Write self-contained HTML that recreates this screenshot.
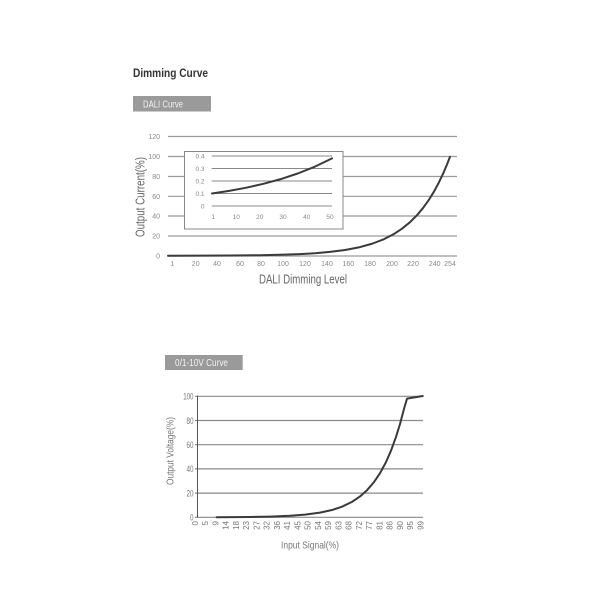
<!DOCTYPE html>
<html><head><meta charset="utf-8">
<style>
html,body{margin:0;padding:0;background:#fff;}
svg{display:block;}
text{font-family:"Liberation Sans",sans-serif;}
</style></head>
<body>
<svg width="600" height="600" viewBox="0 0 600 600" xmlns="http://www.w3.org/2000/svg">
<rect width="600" height="600" fill="#fff"/>

<!-- Title -->
<text x="133" y="77" font-size="11.5" font-weight="bold" fill="#333" textLength="75" lengthAdjust="spacingAndGlyphs">Dimming Curve</text>

<!-- DALI label box -->
<rect x="133" y="96" width="78" height="15.5" fill="#9a9a9a"/>
<text x="143" y="107.5" font-size="10" fill="#f2f2f2" textLength="40" lengthAdjust="spacingAndGlyphs">DALI Curve</text>

<!-- Main chart gridlines -->
<g stroke="#9a9a9a" stroke-width="1.2">
<line x1="168" y1="136.5" x2="457" y2="136.5"/>
<line x1="168" y1="156.5" x2="457" y2="156.5"/>
<line x1="168" y1="176.5" x2="457" y2="176.5"/>
<line x1="168" y1="196.3" x2="457" y2="196.3"/>
<line x1="168" y1="216" x2="457" y2="216"/>
<line x1="168" y1="236" x2="457" y2="236"/>
<line x1="168" y1="256" x2="457" y2="256"/>
</g>

<!-- Main y labels -->
<g font-size="7" fill="#888" text-anchor="end">
<text x="160" y="139">120</text>
<text x="160" y="159">100</text>
<text x="160" y="179">80</text>
<text x="160" y="198.8">60</text>
<text x="160" y="218.5">40</text>
<text x="160" y="238.5">20</text>
<text x="160" y="258.5">0</text>
</g>

<!-- Main x labels -->
<g font-size="7" fill="#888" text-anchor="middle">
<text x="172.3" y="266">1</text>
<text x="195.7" y="266">20</text>
<text x="217" y="266">40</text>
<text x="240" y="266">60</text>
<text x="261" y="266">80</text>
<text x="283" y="266">100</text>
<text x="305" y="266">120</text>
<text x="327" y="266">140</text>
<text x="348.3" y="266">160</text>
<text x="370" y="266">180</text>
<text x="392" y="266">200</text>
<text x="413" y="266">220</text>
<text x="434.7" y="266">240</text>
<text x="450" y="266">254</text>
</g>

<text x="259" y="283.5" font-size="13" fill="#666" textLength="88" lengthAdjust="spacingAndGlyphs">DALI Dimming Level</text>
<text transform="translate(144.5,237) rotate(-90)" font-size="13" fill="#666" textLength="80" lengthAdjust="spacingAndGlyphs">Output Current(%)</text>

<!-- Inset -->
<rect x="184.5" y="151.5" width="158.5" height="77.5" fill="#fff" stroke="#888" stroke-width="1"/>
<g stroke="#888" stroke-width="1">
<line x1="211.7" y1="156" x2="332" y2="156"/>
<line x1="211.7" y1="168.5" x2="332" y2="168.5"/>
<line x1="211.7" y1="181" x2="332" y2="181"/>
<line x1="211.7" y1="193.5" x2="332" y2="193.5"/>
<line x1="211.7" y1="206" x2="332" y2="206"/>
</g>
<g font-size="6.5" fill="#888" text-anchor="end">
<text x="204.5" y="158.3">0.4</text>
<text x="204.5" y="170.8">0.3</text>
<text x="204.5" y="183.3">0.2</text>
<text x="204.5" y="195.8">0.1</text>
<text x="204.5" y="208.3">0</text>
</g>
<g font-size="6.5" fill="#888" text-anchor="middle">
<text x="213.3" y="219">1</text>
<text x="236.3" y="219">10</text>
<text x="259.7" y="219">20</text>
<text x="283" y="219">30</text>
<text x="306.7" y="219">40</text>
<text x="330" y="219">50</text>
</g>
<polyline fill="none" stroke="#3a3a3a" stroke-width="2" stroke-linejoin="round" stroke-linecap="round"
 points="212,193.5 229.1,190.86 246.3,187.68 263.4,183.83 280.6,179.15 297.7,173.5 314.9,166.65 332,158.36"/>

<!-- Main curve -->
<polyline fill="none" stroke="#3a3a3a" stroke-width="2" stroke-linejoin="round" stroke-linecap="round"
 points="168,255.75 200,255.68 230,255.54 260,255.22 280,254.8 300,254.08 315,253.22 330,251.92 345,249.99 360,247.09 372,243.75 384,239.14 394,233.97 402,228.71 410,222.18 417,215.2 423,208.08 429,199.65 434,191.55 439,182.24 443,173.85 447,164.5 450,156.8"/>

<!-- Second chart -->
<rect x="165" y="355" width="77.7" height="15" fill="#9a9a9a"/>
<text x="175" y="366" font-size="10" fill="#f2f2f2" textLength="53" lengthAdjust="spacingAndGlyphs">0/1-10V Curve</text>

<g stroke="#8a8a8a" stroke-width="1.2">
<line x1="195" y1="396.3" x2="423" y2="396.3"/>
<line x1="195" y1="420.5" x2="423" y2="420.5"/>
<line x1="195" y1="444.7" x2="423" y2="444.7"/>
<line x1="195" y1="468.9" x2="423" y2="468.9"/>
<line x1="195" y1="493.1" x2="423" y2="493.1"/>
<line x1="195" y1="517.3" x2="423" y2="517.3"/>
</g>
<line x1="197.5" y1="395.5" x2="197.5" y2="517.8" stroke="#555" stroke-width="1"/>

<g font-size="9.5" fill="#777" text-anchor="end">
<text x="193.5" y="399.6" textLength="10.3" lengthAdjust="spacingAndGlyphs">100</text>
<text x="193.5" y="423.8" textLength="7" lengthAdjust="spacingAndGlyphs">80</text>
<text x="193.5" y="448" textLength="7" lengthAdjust="spacingAndGlyphs">60</text>
<text x="193.5" y="472.2" textLength="7" lengthAdjust="spacingAndGlyphs">40</text>
<text x="193.5" y="496.4" textLength="7" lengthAdjust="spacingAndGlyphs">20</text>
<text x="193.5" y="520.6" textLength="3.5" lengthAdjust="spacingAndGlyphs">0</text>
</g>

<g font-size="8" fill="#777" text-anchor="end">
<text transform="translate(197.8,521) rotate(-90)">0</text>
<text transform="translate(208.1,521) rotate(-90)">5</text>
<text transform="translate(218.3,521) rotate(-90)">9</text>
<text transform="translate(228.6,521) rotate(-90)">14</text>
<text transform="translate(238.8,521) rotate(-90)">18</text>
<text transform="translate(249.1,521) rotate(-90)">23</text>
<text transform="translate(259.4,521) rotate(-90)">27</text>
<text transform="translate(269.6,521) rotate(-90)">32</text>
<text transform="translate(279.9,521) rotate(-90)">36</text>
<text transform="translate(290.1,521) rotate(-90)">41</text>
<text transform="translate(300.4,521) rotate(-90)">45</text>
<text transform="translate(310.7,521) rotate(-90)">50</text>
<text transform="translate(320.9,521) rotate(-90)">54</text>
<text transform="translate(331.2,521) rotate(-90)">59</text>
<text transform="translate(341.4,521) rotate(-90)">63</text>
<text transform="translate(351.7,521) rotate(-90)">68</text>
<text transform="translate(361.9,521) rotate(-90)">72</text>
<text transform="translate(372.2,521) rotate(-90)">77</text>
<text transform="translate(382.5,521) rotate(-90)">81</text>
<text transform="translate(392.7,521) rotate(-90)">86</text>
<text transform="translate(403,521) rotate(-90)">90</text>
<text transform="translate(413.2,521) rotate(-90)">95</text>
<text transform="translate(423.5,521) rotate(-90)">99</text>
</g>

<text x="281" y="548.5" font-size="10.5" fill="#777" textLength="58" lengthAdjust="spacingAndGlyphs">Input Signal(%)</text>
<text transform="translate(173.5,485) rotate(-90)" font-size="10" fill="#777" textLength="68" lengthAdjust="spacingAndGlyphs">Output Voltage(%)</text>

<polyline fill="none" stroke="#3a3a3a" stroke-width="2" stroke-linejoin="round" stroke-linecap="round"
 points="216.7,517.2 250,516.96 270,516.59 290,515.79 305,514.65 320,512.65 332,510.02 342,506.7 352,501.87 360,496.47 367,490.2 374,482.1 380,473.2 386,462.1 391,450.7 396,436.96 400,424 404,408.9 407,398.6 422.7,396"/>
</svg>
</body></html>
